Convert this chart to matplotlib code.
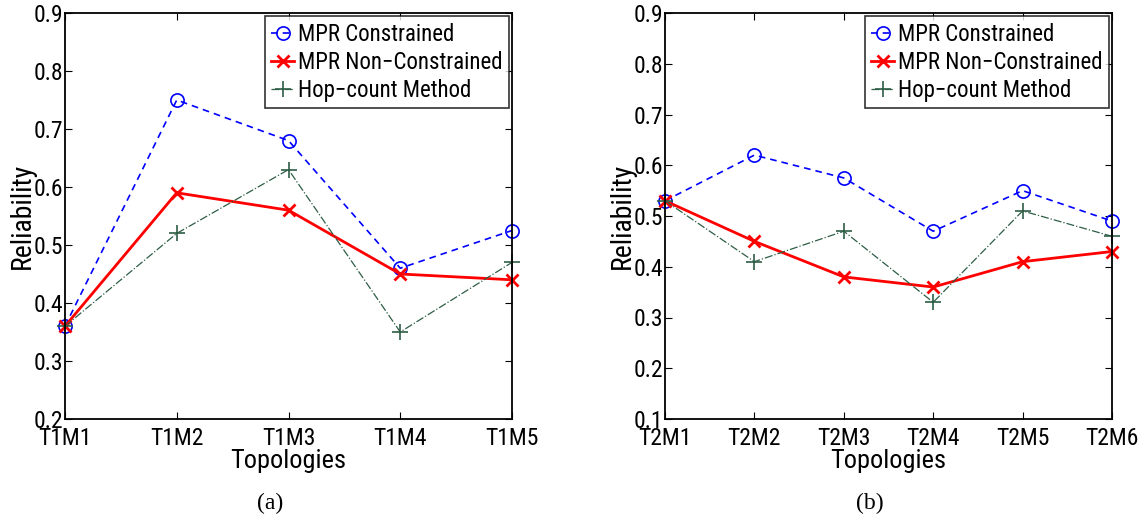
import matplotlib.pyplot as plt

plt.rcParams['font.family'] = ['Liberation Sans Narrow', 'Roboto Condensed', 'Liberation Sans', 'DejaVu Sans']

# panel (a)
labels_a = ['T1M1', 'T1M2', 'T1M3', 'T1M4', 'T1M5']
constrained_a = [0.36, 0.75, 0.68, 0.46, 0.525]
nonconstrained_a = [0.36, 0.59, 0.56, 0.45, 0.44]
hopcount_a = [0.36, 0.52, 0.63, 0.35, 0.47]

# panel (b)
labels_b = ['T2M1', 'T2M2', 'T2M3', 'T2M4', 'T2M5', 'T2M6']
constrained_b = [0.53, 0.62, 0.575, 0.47, 0.55, 0.49]
nonconstrained_b = [0.53, 0.45, 0.38, 0.36, 0.41, 0.43]
hopcount_b = [0.53, 0.41, 0.47, 0.33, 0.51, 0.46]

series_names = ['MPR Constrained', 'MPR Non\u2212Constrained', 'Hop\u2212count Method']
green = '#2e5e45'

fig = plt.figure(figsize=(11.44, 5.24), dpi=100)
W, H = 1144, 524
ax_a = fig.add_axes([65 / W, 1 - 419 / H, (512 - 65) / W, (419 - 13) / H])
ax_b = fig.add_axes([665 / W, 1 - 419 / H, (1112 - 665) / W, (419 - 13) / H])


def draw_panel(ax, labels, cons, noncons, hop, ymin):
    x = list(range(len(labels)))
    ax.plot(x, cons, color='blue', linestyle='--', linewidth=1.2, marker='o',
            markersize=9.5, markerfacecolor='none', markeredgewidth=1.2,
            label=series_names[0], dashes=(4, 3), clip_on=False)
    ax.plot(x, noncons, color='red', linestyle='-', linewidth=2.0, marker='x',
            markersize=8, markeredgewidth=2.0, label=series_names[1], clip_on=False)
    ax.plot(x, hop, color=green, linestyle='-.', linewidth=0.9, marker='+',
            markersize=11, markeredgewidth=1.2, label=series_names[2], clip_on=False)
    ax.set_xlim(0, len(labels) - 1)
    ax.set_ylim(ymin, 0.9)
    ax.set_xticks(x)
    ax.set_xticklabels(labels)
    yt = [round(ymin + 0.1 * i, 1) for i in range(int(round((0.9 - ymin) / 0.1)) + 1)]
    ax.set_yticks(yt)
    ax.set_yticklabels(['%g' % v for v in yt])
    ax.tick_params(direction='in', top=True, right=True, labelsize=17, length=5,
                   width=0.8)
    ax.tick_params(axis='y', pad=1)
    ax.tick_params(axis='x', pad=6)
    for s in ax.spines.values():
        s.set_linewidth(1.3)
    ax.set_xlabel('Topologies', fontsize=19, labelpad=-1)
    ax.set_ylabel('Reliability', fontsize=20, labelpad=-1)
    leg = ax.legend(loc='upper right', fontsize=16.5, frameon=True, fancybox=False,
                    edgecolor='black', handlelength=1.0, handletextpad=0.15,
                    borderpad=0.28, labelspacing=0.22, borderaxespad=0.15)
    leg.get_frame().set_linewidth(1.2)


draw_panel(ax_a, labels_a, constrained_a, nonconstrained_a, hopcount_a, 0.2)
draw_panel(ax_b, labels_b, constrained_b, nonconstrained_b, hopcount_b, 0.1)

fig.text(270 / W, 1 - 503 / H, '(a)', ha='center', va='center', fontsize=17,
         family='Liberation Serif')
fig.text(870 / W, 1 - 503 / H, '(b)', ha='center', va='center', fontsize=17,
         family='Liberation Serif')

fig.savefig('out.png', dpi=100)
